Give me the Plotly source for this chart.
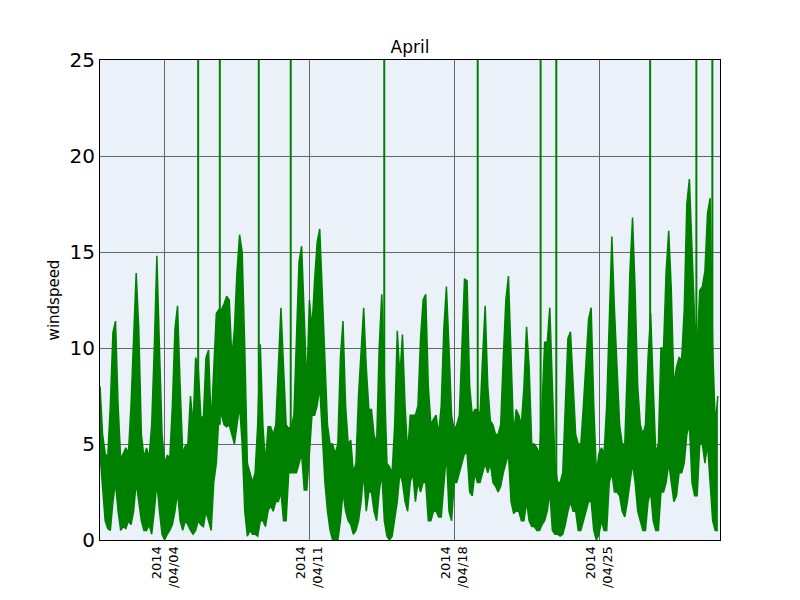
import pandas as pd
import plotly.graph_objects as go

# Wind speed in 3-hour bins: lowest and highest reading in each bin
start_time = "2014-03-31 20:40"
step = "3h"
wind_low = [
    4.5, 2.5, 1.0, 0.6, 0.5, 2.0, 3.0, 1.5, 0.5, 0.7,
    0.6, 1.0, 0.8, 1.5, 3.0, 2.0, 1.0, 0.5, 0.5, 0.8,
    0.3, 1.5, 3.0, 1.5, 0.3, 0.0, 0.3, 0.5, 0.8, 1.5,
    2.5, 1.0, 0.5, 1.0, 0.8, 0.5, 0.3, 0.5, 1.0, 0.8,
    0.7, 1.5, 1.0, 0.5, 3.0, 4.0, 6.5, 6.5, 6.0, 5.9,
    6.0, 5.5, 5.0, 6.0, 7.0, 5.0, 1.5, 0.2, 0.5, 0.3,
    0.3, 0.2, 1.0, 1.0, 0.7, 1.5, 1.8, 1.5, 2.0, 2.0,
    2.5, 1.0, 1.0, 3.5, 3.5, 3.5, 3.5, 4.0, 4.5, 2.6,
    2.6, 4.5, 6.5, 6.5, 7.0, 8.0, 5.5, 3.0, 1.5, 0.5,
    0.0, 0.0, 0.0, 1.0, 2.5, 1.5, 1.0, 0.8, 0.3, 0.5,
    1.0, 2.0, 3.5, 1.5, 2.5, 2.5, 1.5, 1.0, 2.5, 3.5,
    1.0, 0.2, 0.0, 0.2, 1.0, 2.0, 3.5, 3.0, 2.0, 1.5,
    3.0, 3.5, 2.0, 3.0, 2.5, 3.0, 3.0, 1.0, 1.0, 1.5,
    1.5, 1.2, 1.2, 3.0, 4.5, 1.5, 1.0, 3.0, 3.0, 3.5,
    4.0, 4.5, 4.5, 2.5, 2.3, 3.5, 3.0, 3.0, 3.5, 4.0,
    3.5, 4.0, 3.0, 2.8, 2.5, 2.8, 3.5, 4.0, 4.5, 2.0,
    1.4, 1.5, 1.5, 1.0, 1.0, 2.0, 1.0, 0.7, 0.7, 0.5,
    0.5, 0.8, 1.0, 1.5, 2.5, 0.5, 0.3, 0.3, 0.2, 0.3,
    0.8, 1.5, 2.0, 1.5, 1.5, 0.5, 0.5, 1.0, 1.5, 2.0,
    2.0, 0.5, 0.0, 0.3, 1.0, 0.5, 0.5, 3.0, 3.5, 2.5,
    2.5, 2.3, 1.5, 1.2, 2.0, 3.0, 4.0, 3.0, 1.5, 1.0,
    0.5, 0.5, 2.0, 2.5, 1.0, 0.5, 0.5, 2.5, 2.5, 3.0,
    4.0, 3.0, 2.0, 2.3, 3.5, 3.5, 4.0, 5.5, 6.0, 3.0,
    2.3, 2.3, 5.0, 5.0, 4.0, 5.0, 3.0, 1.0, 0.5, 0.5,
]
wind_high = [
    8.0, 5.5, 4.5, 4.3, 7.0, 10.8, 11.4, 7.0, 4.2, 4.5,
    4.8, 4.5, 7.0, 10.5, 13.9, 11.0, 5.5, 4.3, 4.8, 4.3,
    6.0, 10.0, 14.8, 10.0, 5.5, 4.0, 4.4, 4.3, 7.0, 11.0,
    12.2, 8.0, 4.5, 4.9, 5.0, 7.5, 6.0, 9.5, 9.0, 6.4,
    6.4, 9.5, 9.9, 6.0, 9.0, 11.8, 12.0, 12.0, 12.3, 12.7,
    12.5, 9.5, 11.0, 14.0, 15.9, 15.0, 10.0, 4.0, 3.5, 3.0,
    3.5, 6.0, 10.2, 6.0, 4.0, 5.9, 5.9, 5.5, 6.0, 9.5,
    12.1, 9.0, 6.0, 5.8, 5.9, 6.5, 11.0, 14.5, 15.3, 12.0,
    8.0, 12.5, 11.0, 13.5, 15.5, 16.2, 13.0, 9.5, 6.0, 5.0,
    5.0, 4.5, 5.0, 9.5, 11.4, 7.0, 5.0, 5.2, 3.5, 4.0,
    7.5, 9.8, 12.1, 9.0, 6.8, 6.8, 5.5, 5.0, 10.0, 12.8,
    8.0, 4.0, 3.8, 3.5, 6.0, 10.9, 8.5, 10.7, 7.0, 4.5,
    6.5, 6.5, 6.5, 7.0, 10.5, 12.5, 12.8, 8.0, 6.0, 6.3,
    6.5, 5.5, 7.0, 11.0, 13.2, 10.0, 6.5, 5.7, 6.0, 6.5,
    10.5, 13.6, 13.5, 8.0, 6.5, 6.8, 6.8, 6.5, 9.5, 12.2,
    8.0, 6.2, 6.0, 5.5, 5.5, 6.0, 9.5, 12.5, 13.75, 9.0,
    5.5, 6.8, 6.5, 6.0, 8.0, 11.1, 9.0, 5.0, 5.0, 4.8,
    4.5, 7.0, 10.3, 10.3, 12.1, 8.0, 4.0, 3.0, 3.0, 3.5,
    7.0, 10.5, 10.85, 8.0, 5.5, 5.0, 5.0, 7.0, 9.5, 11.5,
    12.1, 7.0, 3.5, 4.5, 4.8, 4.5, 7.0, 12.0, 15.8, 12.0,
    9.0, 6.0, 5.0, 5.0, 9.0, 14.0, 16.8, 13.0, 8.0, 6.0,
    5.5, 6.0, 9.5, 11.8, 8.0, 4.5, 5.0, 10.0, 10.0, 14.0,
    16.1, 13.0, 8.0, 9.0, 9.5, 9.4, 12.0, 17.5, 18.8, 15.0,
    11.5, 10.0, 13.0, 13.2, 14.0, 17.0, 17.8, 10.0, 6.0, 7.5,
]

# Off-scale readings (single samples far above the axis limit)
spike_times = [
    "2014-04-05 14:35", "2014-04-06 15:43", "2014-04-08 12:55",
    "2014-04-10 02:00", "2014-04-14 14:33", "2014-04-19 03:00",
    "2014-04-22 04:00", "2014-04-22 22:12", "2014-04-27 11:05",
    "2014-04-29 16:45", "2014-04-30 11:17",
]
spike_base = [5.0, 6.0, 5.0, 5.0, 4.0, 6.0, 3.0, 2.0, 4.0, 8.0, 6.0]
spike_peak = [30.0] * len(spike_times)

tick_dates = ["2014-04-04", "2014-04-11", "2014-04-18", "2014-04-25"]
tick_labels = ["2014<br>/04/04", "2014<br>/04/11", "2014<br>/04/18", "2014<br>/04/25"]
x_range = ["2014-03-31 20:40", "2014-04-30 20:10"]
y_ticks = [0, 5, 10, 15, 20, 25]

times = pd.date_range(start_time, periods=len(wind_low), freq=step)

GREEN = "#008000"
fig = go.Figure()
fig.add_trace(go.Scatter(x=times, y=wind_low, mode="lines",
                         line=dict(color=GREEN, width=1.5), showlegend=False))
fig.add_trace(go.Scatter(x=times, y=wind_high, mode="lines", fill="tonexty",
                         fillcolor=GREEN,
                         line=dict(color=GREEN, width=1.5), showlegend=False))

sx, sy = [], []
for t, b, p in zip(spike_times, spike_base, spike_peak):
    sx += [t, t, None]
    sy += [b, p, None]
fig.add_trace(go.Scatter(x=sx, y=sy, mode="lines",
                         line=dict(color=GREEN, width=2), showlegend=False))

axis_common = dict(showgrid=True, gridcolor="#666666", gridwidth=1,
                   showline=True, linecolor="black", linewidth=1, mirror=True,
                   zeroline=False, ticks="")
fig.update_layout(
    width=792, height=592,
    margin=dict(l=92, r=80, t=52, b=60),
    paper_bgcolor="white", plot_bgcolor="#eaf1f8",
    font=dict(family="DejaVu Sans", color="black"),
    title=dict(text="April", x=0.5076, xanchor="center", y=0.934, yanchor="middle",
               font=dict(size=17)),
    xaxis=dict(range=x_range, tickvals=tick_dates, ticktext=tick_labels,
               tickangle=-90, tickfont=dict(size=13), **axis_common),
    yaxis=dict(range=[0, 25], tickvals=y_ticks, tickfont=dict(size=20),
               title=dict(text="windspeed", font=dict(size=15), standoff=6),
               **axis_common),
)

fig.write_html("out.html")
